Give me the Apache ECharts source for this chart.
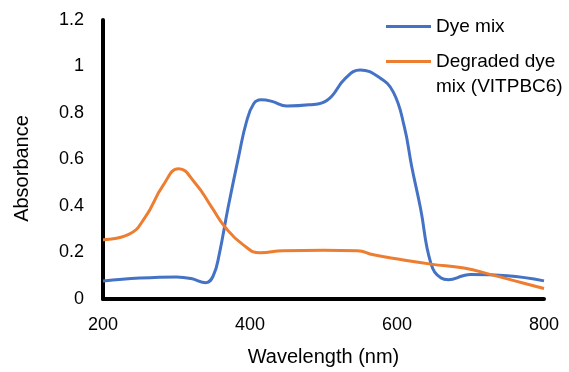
<!DOCTYPE html>
<html>
<head>
<meta charset="utf-8">
<script src="https://cdn.jsdelivr.net/npm/echarts@6/dist/echarts.min.js"></script>
<style>
  html, body { margin: 0; padding: 0; background: #fff; }
  #chart { width: 569px; height: 372px; }
</style>
</head>
<body>
<div id="chart"></div>
<script>
// Dye mix spectrum
const dyeWl = [200, 250, 300, 320, 340, 350, 358, 370, 385, 395, 405, 415, 430, 450, 480, 505, 530, 550, 575, 595, 610, 620, 632, 646, 660, 670, 690, 700, 750, 800];
const dyeAbs = [0.077, 0.09, 0.095, 0.088, 0.07, 0.1, 0.19, 0.39, 0.62, 0.76, 0.84, 0.857, 0.85, 0.83, 0.835, 0.855, 0.95, 0.985, 0.955, 0.89, 0.74, 0.57, 0.39, 0.154, 0.09, 0.083, 0.1, 0.105, 0.1, 0.078];

// Degraded dye mix (VITPBC6)
const degWl = [200, 235, 257, 282, 303, 325, 348, 366, 390, 414, 445, 500, 546, 568, 605, 646, 691, 728, 770, 800];
const degAbs = [0.255, 0.278, 0.35, 0.49, 0.56, 0.5, 0.394, 0.31, 0.235, 0.199, 0.208, 0.21, 0.208, 0.19, 0.17, 0.15, 0.133, 0.105, 0.07, 0.045];

const seriesNames = ["Dye mix", "Degraded dye mix (VITPBC6)"];
const xTicks = [200, 400, 600, 800];

const chart = echarts.init(document.getElementById("chart"));
const font = "Liberation Sans, Arial, sans-serif";

const pairs = (xs, ys) => xs.map((x, i) => [x, ys[i]]);

chart.setOption({
  animation: false,
  textStyle: { fontFamily: font },
  grid: { left: 103, right: 25, top: 20, bottom: 67 },
  legend: [
    {
      data: [seriesNames[0]],
      left: 381,
      top: 9,
      icon: "rect",
      itemWidth: 45,
      itemHeight: 3,
      itemGap: 0,
      textStyle: { fontSize: 19, color: "#000", fontFamily: font, lineHeight: 25 }
    },
    {
      data: [seriesNames[1]],
      left: 381,
      top: 19,
      icon: "rect",
      itemWidth: 45,
      itemHeight: 3,
      formatter: () => "\nDegraded dye\nmix (VITPBC6)",
      textStyle: { fontSize: 19, color: "#000", fontFamily: font, lineHeight: 25 }
    }
  ],
  xAxis: {
    type: "value",
    min: 200,
    max: 800,
    interval: 200,
    name: "Wavelength (nm)",
    nameLocation: "middle",
    nameGap: 48,
    nameTextStyle: { fontSize: 20, color: "#000", fontFamily: font },
    axisLine: { lineStyle: { color: "#000", width: 4 } },
    axisTick: { show: false },
    splitLine: { show: false },
    axisLabel: {
      fontSize: 18, color: "#000", margin: 17, fontFamily: font,
      formatter: v => (xTicks.includes(v) ? String(v) : "")
    }
  },
  yAxis: {
    type: "value",
    min: 0,
    max: 1.2,
    interval: 0.2,
    name: "Absorbance",
    nameLocation: "middle",
    nameGap: 71,
    nameTextStyle: { fontSize: 20, color: "#000", fontFamily: font, padding: [0, 18, 0, 0] },
    axisLine: { show: true, lineStyle: { color: "#000", width: 4 } },
    axisTick: { show: false },
    splitLine: { show: false },
    axisLabel: { fontSize: 18, color: "#000", margin: 19, fontFamily: font }
  },
  series: [
    {
      name: seriesNames[0],
      type: "line",
      data: pairs(dyeWl, dyeAbs),
      smooth: 0.45,
      showSymbol: false,
      symbol: "none",
      lineStyle: { color: "#4472C4", width: 3 },
      itemStyle: { color: "#4472C4" }
    },
    {
      name: seriesNames[1],
      type: "line",
      data: pairs(degWl, degAbs),
      smooth: 0.5,
      showSymbol: false,
      symbol: "none",
      lineStyle: { color: "#ED7D31", width: 3 },
      itemStyle: { color: "#ED7D31" }
    }
  ]
});
</script>
</body>
</html>
